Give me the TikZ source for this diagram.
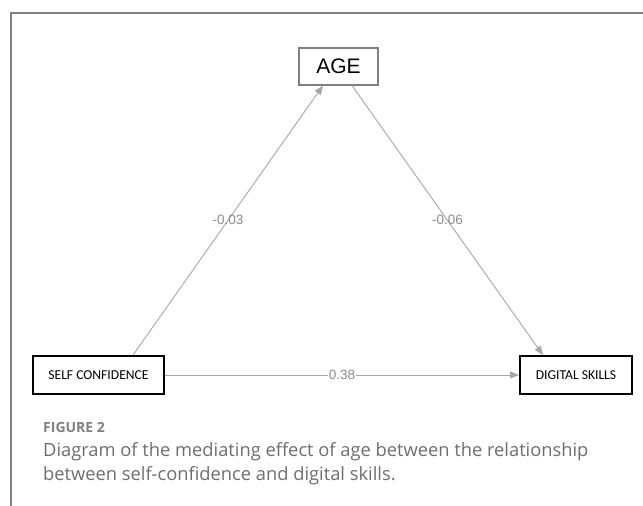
\documentclass[tikz,border=0pt]{standalone}
\usepackage{fontspec}
\setmainfont{Liberation Sans}
\newfontfamily\boxfont{Carlito}
\newfontfamily\capfont{Open Sans}
\usetikzlibrary{arrows.meta}
\definecolor{framegray}{HTML}{7F7F7F}
\definecolor{edgegray}{HTML}{A6A6A6}
\definecolor{labgray}{HTML}{8C8C8C}
\definecolor{capgray}{HTML}{6E6E6E}
\definecolor{figgray}{HTML}{808080}
\tikzset{
  agebox/.style={draw=framegray, line width=1.1pt, fill=white, minimum width=79pt, minimum height=37pt, inner sep=0pt, font=\fontsize{21}{21}\selectfont},
  varbox/.style={draw=black, line width=1.8pt, fill=white, minimum height=38pt, inner sep=0pt, font=\boxfont\fontsize{13.6}{13.6}\selectfont},
  edge/.style={draw=edgegray, line width=0.9pt, -{Triangle[length=9pt,width=7pt,fill=edgegray]}},
  elabel/.style={text=labgray, font=\fontsize{13.5}{13.5}\selectfont, inner sep=0.5pt},
  capline/.style={anchor=base west, inner sep=0pt, text=capgray, font=\capfont\fontsize{18.3}{18.3}\selectfont},
  figlab/.style={anchor=base west, inner sep=0pt, text=figgray, font=\capfont\bfseries\fontsize{14}{14}\selectfont},
  framel/.style={draw=framegray, line width=1.3pt}
}
\begin{document}
\begin{tikzpicture}[x=1pt,y=-1pt]
\useasboundingbox (0,0) rectangle (643,506);
\fill[white] (0,0) rectangle (643,506);
\coordinate (fbot) at (11,506);
\coordinate (fcorner) at (11,13);
\coordinate (fright) at (643,13);
\draw[framel] (fbot) -- (fcorner) -- (fright);
\node[agebox] (age) at (338.5,66.5) {AGE};
\node[varbox, minimum width=131pt] (sc) at (98.5,375) {SELF CONFIDENCE};
\node[varbox, minimum width=112pt] (ds) at (576,375) {DIGITAL SKILLS};
\draw[edge] ([xshift=34.5pt]sc.north) -- node[elabel]{-0.03} ([xshift=-15.5pt]age.south);
\draw[edge] ([xshift=13.5pt]age.south) -- node[elabel]{-0.06} ([xshift=-33pt]ds.north);
\draw[edge] (sc.east) -- node[elabel, fill=white]{0.38} (ds.west);
\node[figlab] (fig) at (43,432) {FIGURE 2};
\node[capline] (cap1) at (43,456) {Diagram of the mediating effect of age between the relationship};
\node[capline] (cap2) at (43,480) {between self-confidence and digital skills.};
\end{tikzpicture}
\end{document}
